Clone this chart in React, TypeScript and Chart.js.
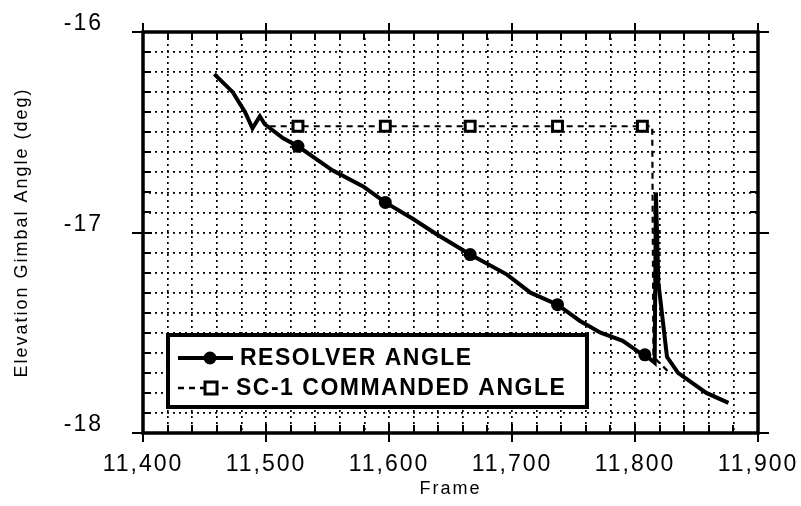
import React, { useEffect, useRef } from "react";
import { Chart, registerables } from "chart.js";

Chart.register(...registerables);

// ---- Data ----
const resolverFrames = [
  11458, 11473, 11483, 11489, 11495, 11499, 11514, 11526, 11554, 11579, 11597,
  11619, 11639, 11666, 11696, 11715, 11737, 11755, 11772, 11790, 11804, 11808,
  11816, 11817, 11819, 11826, 11835, 11858, 11876,
];
const resolverAngles = [
  -16.21, -16.3, -16.4, -16.48, -16.42, -16.46, -16.53, -16.57, -16.69, -16.77,
  -16.85, -16.93, -17.01, -17.11, -17.21, -17.3, -17.36, -17.44, -17.5, -17.54,
  -17.6, -17.61, -17.65, -16.8, -17.25, -17.62, -17.7, -17.8, -17.85,
];
const resolverMarkerFrames = [11526, 11597, 11666, 11737, 11808];

const commandedFrames = [11503, 11526, 11597, 11666, 11737, 11806, 11814, 11815, 11828];
const commandedAngles = [-16.47, -16.47, -16.47, -16.47, -16.47, -16.47, -16.47, -17.62, -17.7];
const commandedMarkerFrames = [11526, 11597, 11666, 11737, 11806];

const seriesNames = ["RESOLVER ANGLE", "SC-1 COMMANDED ANGLE"];
const xTitle = "Frame";
const yTitle = "Elevation Gimbal Angle (deg)";

const xMin = 11400;
const xMax = 11900;
const xMinorStep = 20;
const xMajorStep = 100;
const yMin = -18;
const yMax = -16;
const yMinorStep = 0.1;

const FONT = "'Liberation Sans', Arial, Helvetica, sans-serif";

function toPoints(xs: number[], ys: number[]) {
  return xs.map((x, i) => ({ x, y: ys[i] }));
}

const framePlugin = {
  id: "frameTicksLegend",
  beforeDraw(chart: any) {
    chart.ctx.letterSpacing = "2px";
  },
  afterDraw(chart: any) {
    const { ctx, chartArea } = chart;
    const { left, right, top, bottom } = chartArea;
    const xs = chart.scales.x;
    const ys = chart.scales.y;
    ctx.save();
    ctx.setLineDash([]);
    ctx.strokeStyle = "#000";
    ctx.lineCap = "butt";

    // frame
    ctx.lineWidth = 3.5;
    ctx.strokeRect(left, top, right - left, bottom - top);

    // x ticks (top and bottom)
    ctx.lineWidth = 2;
    const nx = Math.round((xMax - xMin) / xMinorStep);
    for (let i = 0; i <= nx; i++) {
      const v = xMin + i * xMinorStep;
      const px = Math.round(xs.getPixelForValue(v));
      const major = (v - xMin) % xMajorStep === 0;
      ctx.beginPath();
      if (major) {
        ctx.moveTo(px, bottom - 9);
        ctx.lineTo(px, bottom + 9);
        ctx.moveTo(px, top - 9);
        ctx.lineTo(px, top + 9);
      } else {
        ctx.moveTo(px, bottom);
        ctx.lineTo(px, bottom - 8);
        ctx.moveTo(px, top);
        ctx.lineTo(px, top + 8);
      }
      ctx.stroke();
    }
    // y ticks (left and right)
    const ny = Math.round((yMax - yMin) / yMinorStep);
    for (let i = 0; i <= ny; i++) {
      const v = yMin + i * yMinorStep;
      const py = Math.round(ys.getPixelForValue(v));
      const major = i % 10 === 0;
      ctx.beginPath();
      if (major) {
        ctx.moveTo(left - 11, py);
        ctx.lineTo(left + 9, py);
        ctx.moveTo(right - 9, py);
        ctx.lineTo(right + 11, py);
      } else {
        ctx.moveTo(left, py);
        ctx.lineTo(left + 8, py);
        ctx.moveTo(right, py);
        ctx.lineTo(right - 8, py);
      }
      ctx.stroke();
    }

    // legend box
    const bx = left + 25;
    const by = top + 303;
    const bw = 419;
    const bh = 72;
    ctx.fillStyle = "#fff";
    ctx.fillRect(bx, by, bw, bh);
    ctx.lineWidth = 4;
    ctx.strokeRect(bx, by, bw, bh);

    const row1 = by + 23;
    const row2 = by + 53;
    // resolver sample
    ctx.lineWidth = 4;
    ctx.beginPath();
    ctx.moveTo(bx + 10, row1);
    ctx.lineTo(bx + 65, row1);
    ctx.stroke();
    ctx.fillStyle = "#000";
    ctx.beginPath();
    ctx.arc(bx + 42, row1, 6.5, 0, Math.PI * 2);
    ctx.fill();
    // commanded sample
    ctx.lineWidth = 2.5;
    ctx.setLineDash([6, 5]);
    ctx.beginPath();
    ctx.moveTo(bx + 10, row2);
    ctx.lineTo(bx + 62, row2);
    ctx.stroke();
    ctx.setLineDash([]);
    ctx.fillStyle = "#fff";
    ctx.fillRect(bx + 37, row2 - 6, 12, 12);
    ctx.lineWidth = 3;
    ctx.strokeRect(bx + 37, row2 - 6, 12, 12);

    ctx.fillStyle = "#000";
    ctx.letterSpacing = "1.5px";
    ctx.font = `bold 23px ${FONT}`;
    ctx.textBaseline = "middle";
    ctx.textAlign = "left";
    ctx.fillText(seriesNames[0], bx + 72, row1 + 1);
    ctx.fillText(seriesNames[1], bx + 68, row2 + 1);
    ctx.restore();
  },
};

export default function App() {
  const ref = useRef<HTMLCanvasElement | null>(null);

  useEffect(() => {
    if (!ref.current) return;
    const chart = new Chart(ref.current, {
      type: "line",
      data: {
        datasets: [
          {
            label: seriesNames[0],
            data: toPoints(resolverFrames, resolverAngles),
            borderColor: "#000",
            backgroundColor: "#000",
            borderWidth: 4,
            tension: 0,
            pointStyle: "circle",
            pointRadius: (c: any) => (resolverMarkerFrames.includes(c.raw?.x) ? 6.5 : 0),
            pointBorderWidth: 0,
            pointBackgroundColor: "#000",
          },
          {
            label: seriesNames[1],
            data: toPoints(commandedFrames, commandedAngles),
            borderColor: "#000",
            backgroundColor: "#fff",
            borderWidth: 2.2,
            borderDash: [6, 5],
            tension: 0,
            pointStyle: "rect",
            pointRadius: (c: any) => (commandedMarkerFrames.includes(c.raw?.x) ? 7 : 0),
            pointBorderWidth: 3,
            pointBorderColor: "#000",
            pointBackgroundColor: "#fff",
          },
        ],
      },
      options: {
        animation: false,
        responsive: true,
        maintainAspectRatio: false,
        layout: { padding: { left: 0, top: 32, right: 43, bottom: 0 } },
        plugins: {
          legend: { display: false },
          tooltip: { enabled: false },
        },
        scales: {
          x: {
            type: "linear",
            min: xMin,
            max: xMax,
            afterFit: (s: any) => {
              s.height = 73;
              s.paddingLeft = 0;
              s.paddingRight = 0;
            },
            ticks: {
              stepSize: xMinorStep,
              autoSkip: false,
              maxRotation: 0,
              padding: 18,
              color: "#000",
              font: { family: FONT, size: 23 },
              callback: (v: any) =>
                (Number(v) - xMin) % xMajorStep === 0 ? Number(v).toLocaleString("en-US") : "",
            },
            grid: { color: "#000", lineWidth: 1.7, drawTicks: false },
            border: { display: false, dash: [2, 4] },
            title: {
              display: true,
              text: xTitle,
              color: "#000",
              font: { family: FONT, size: 18 },
              padding: { top: 0, bottom: 6 },
            },
          },
          y: {
            type: "linear",
            min: yMin,
            max: yMax,
            afterFit: (s: any) => {
              s.width = 143;
              s.paddingTop = 0;
              s.paddingBottom = 0;
            },
            ticks: {
              stepSize: yMinorStep,
              autoSkip: false,
              padding: 40,
              labelOffset: -8,
              color: "#000",
              font: { family: FONT, size: 23 },
              callback: (v: any) => {
                const n = Number(v);
                return Math.abs(n - Math.round(n)) < 1e-6 ? String(Math.round(n)) : "";
              },
            },
            grid: { color: "#000", lineWidth: 1.7, drawTicks: false },
            border: { display: false, dash: [2, 4] },
            title: {
              display: true,
              text: yTitle,
              color: "#000",
              font: { family: FONT, size: 18 },
              padding: { top: 11, bottom: 0 },
            },
          },
        },
      },
      plugins: [framePlugin],
    } as any);
    return () => chart.destroy();
  }, []);

  return (
    <div style={{ position: "fixed", left: 0, top: 0, width: 801, height: 506, background: "#fff" }}>
      <canvas ref={ref} />
    </div>
  );
}
